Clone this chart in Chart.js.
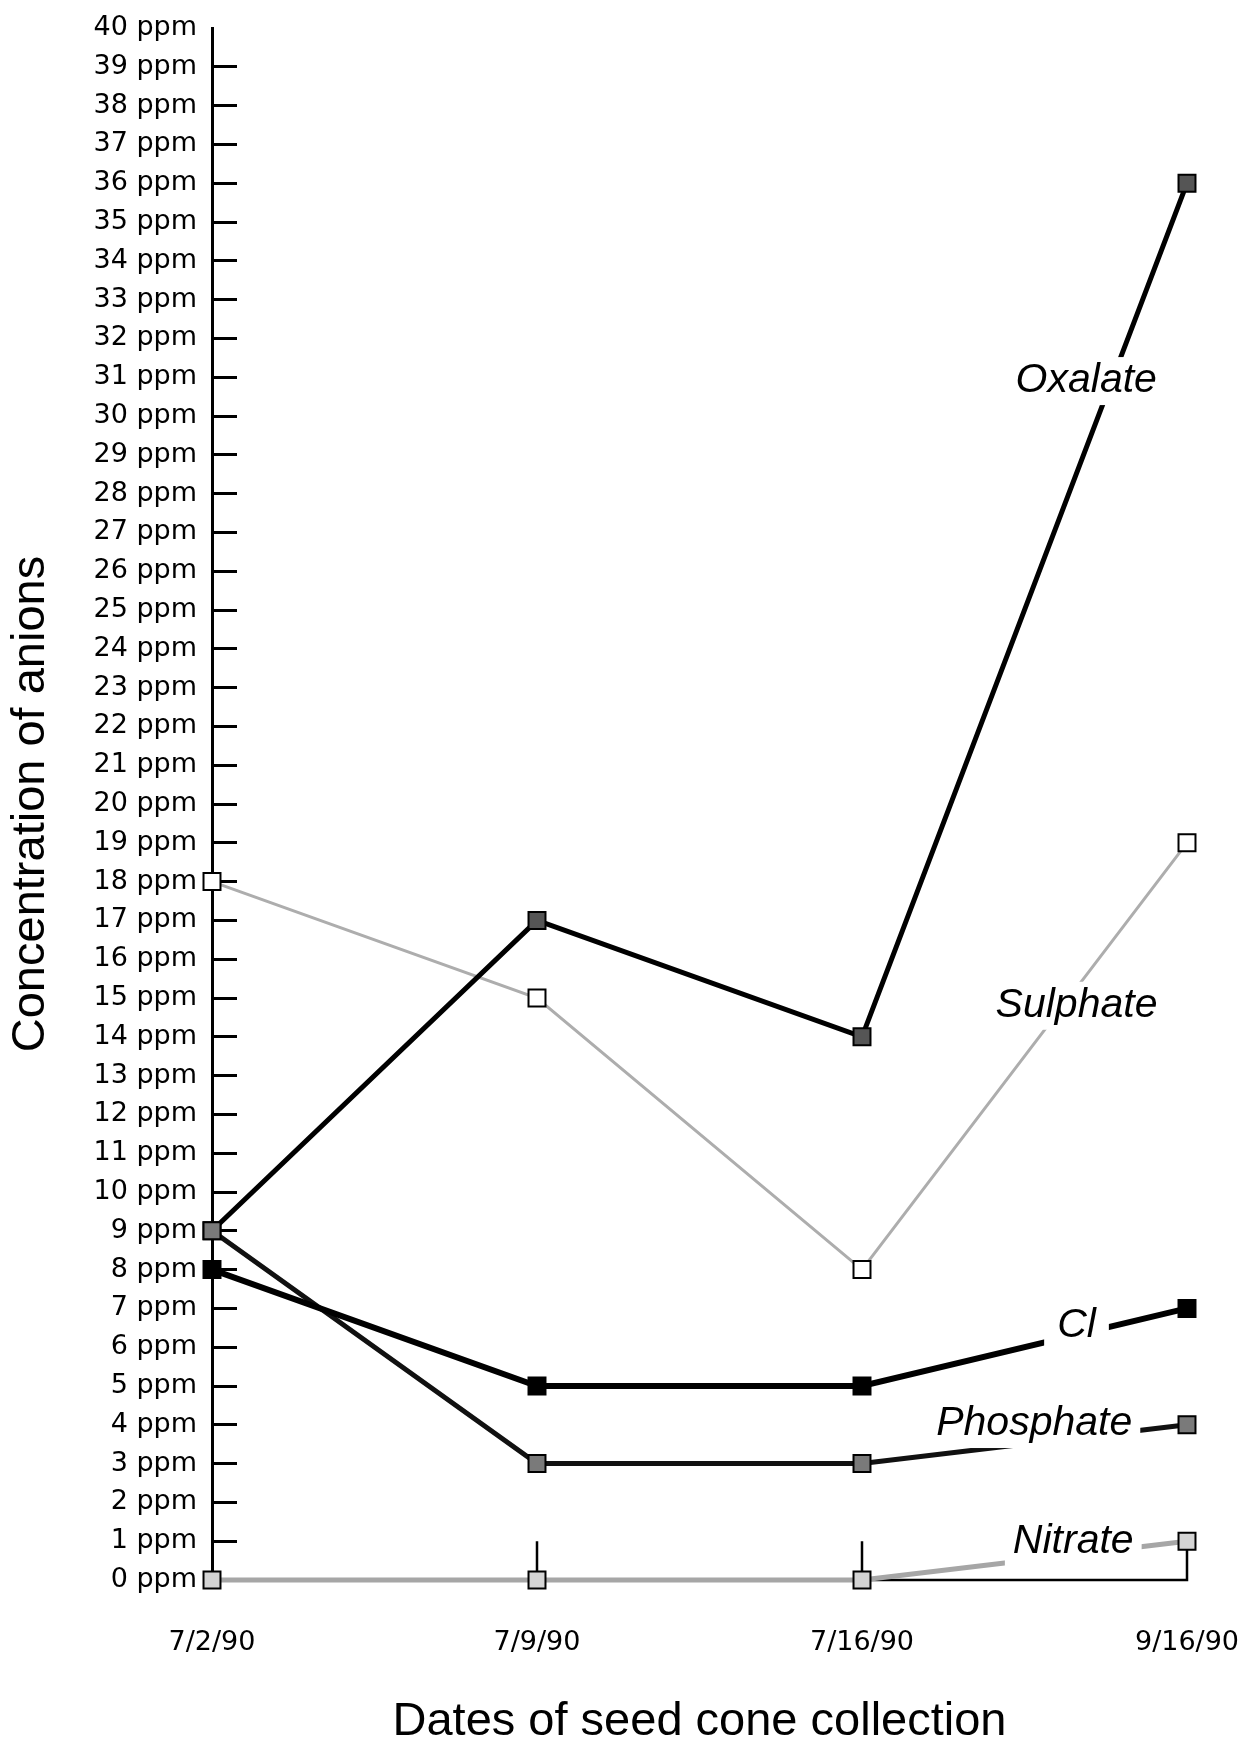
<!DOCTYPE html>
<html>
<head>
<meta charset="utf-8">
<title>Concentration of anions</title>
<script src="https://cdn.jsdelivr.net/npm/chart.js@4.4.1/dist/chart.umd.min.js"></script>
<style>
  html, body { margin: 0; padding: 0; background: #fff; }
  canvas { display: block; }
</style>
</head>
<body>
<canvas id="anionChart" width="1252" height="1746"></canvas>
<script>
// collection dates (x axis)
const dates = ['7/2/90', '7/9/90', '7/16/90', '9/16/90'];

// ppm values
const oxalate = [9, 17, 14, 36];
const sulphate = [18, 15, 8, 19];
const chloride = [8, 5, 5, 7];
const phosphate = [9, 3, 3, 4];
const nitrate = [0, 0, 0, 1];

// stray tick stems / baseline seen near the bottom of the original
const baselineMarks = [
    { x: '7/9/90', y: 0 }, { x: '7/9/90', y: 1 }, { x: '7/9/90', y: null },
    { x: '7/16/90', y: 1 }, { x: '7/16/90', y: 0 }, { x: '9/16/90', y: 0 }, { x: '9/16/90', y: 1 }
];

const seriesNames = ['Cl', 'Phosphate', 'Oxalate', 'Sulphate', 'Nitrate'];

const tickFont = { family: '"DejaVu Sans", sans-serif', size: 27 };
const titleFont = { family: '"Liberation Sans", Arial, sans-serif', size: 47, lineHeight: 1 };

// draws the in-line series names with a white gap behind them
const seriesLabelPlugin = {
    id: 'seriesLabels',
    afterDatasetsDraw(chart, args, opts) {
        const ctx = chart.ctx;
        const xs = chart.scales.x;
        const ys = chart.scales.y;
        ctx.save();
        ctx.font = 'italic 41px "Liberation Sans", Arial, sans-serif';
        ctx.textAlign = 'center';
        ctx.textBaseline = 'middle';
        opts.items.forEach(item => {
            const px = xs.getPixelForValue(item.at[0]);
            const py = ys.getPixelForValue(item.at[1]);
            const w = ctx.measureText(item.text).width;
            const padX = item.pad || 8;
            ctx.fillStyle = '#fff';
            ctx.fillRect(px - w / 2 - padX, py - 24, w + padX * 2, 48);
            ctx.fillStyle = '#000';
            ctx.fillText(item.text, px, py);
        });
        ctx.restore();
    }
};

function pointStyleFor(fill) {
    return {
        pointStyle: 'rect',
        pointRadius: 12,
        pointHoverRadius: 12,
        pointBorderWidth: 2,
        pointBorderColor: '#000',
        pointBackgroundColor: fill
    };
}

new Chart(document.getElementById('anionChart'), {
    type: 'line',
    data: {
        labels: dates,
        datasets: [
            {
                label: seriesNames[0],
                data: chloride,
                borderColor: '#000',
                borderWidth: 6,
                clip: false,
                ...pointStyleFor('#000')
            },
            {
                label: seriesNames[1],
                data: phosphate,
                borderColor: '#111',
                borderWidth: 5,
                clip: false,
                ...pointStyleFor('#7a7a7a')
            },
            {
                label: seriesNames[2],
                data: oxalate,
                borderColor: '#000',
                borderWidth: 5,
                clip: false,
                ...pointStyleFor('#555')
            },
            {
                label: seriesNames[3],
                data: sulphate,
                borderColor: '#adadad',
                borderWidth: 3,
                clip: false,
                ...pointStyleFor('#fff')
            },
            {
                label: seriesNames[4],
                data: nitrate,
                borderColor: '#a6a6a6',
                borderWidth: 5,
                clip: false,
                ...pointStyleFor('#d4d4d4')
            },
            {
                label: 'marks',
                data: baselineMarks,
                borderColor: '#000',
                borderWidth: 2.5,
                pointRadius: 0,
                spanGaps: false,
                clip: false
            }
        ]
    },
    options: {
        responsive: false,
        animation: false,
        events: [],
        elements: { line: { tension: 0 } },
        layout: {
            padding: { top: 28, right: 65, bottom: 0, left: 0 }
        },
        plugins: {
            legend: { display: false },
            tooltip: { enabled: false },
            seriesLabels: {
                items: [
                    { text: 'Oxalate', at: [2.69, 30.9] },
                    { text: 'Sulphate', at: [2.66, 14.8] },
                    { text: 'Cl', at: [2.66, 6.55], pad: 13 },
                    { text: 'Phosphate', at: [2.53, 4.02] },
                    { text: 'Nitrate', at: [2.65, 0.98] }
                ]
            }
        },
        scales: {
            x: {
                type: 'category',
                offset: false,
                grid: { display: false, drawTicks: false },
                border: { display: false },
                ticks: {
                    color: '#000',
                    font: tickFont,
                    padding: 47,
                    maxRotation: 0,
                    autoSkip: false
                },
                title: {
                    display: true,
                    text: 'Dates of seed cone collection',
                    color: '#000',
                    font: titleFont,
                    padding: { top: 0, bottom: 0 }
                },
                afterFit(scale) {
                    scale.height = 166;
                    scale.paddingLeft = 0;
                    scale.paddingRight = 0;
                }
            },
            y: {
                min: 0,
                max: 40,
                grid: {
                    drawOnChartArea: false,
                    drawTicks: true,
                    tickLength: -25,
                    tickWidth: 3,
                    tickColor: ctx => (ctx.tick && (ctx.tick.value === 40 || ctx.tick.value === 0)) ? 'rgba(0,0,0,0)' : '#000'
                },
                border: { display: true, color: '#000', width: 3 },
                ticks: {
                    stepSize: 1,
                    autoSkip: false,
                    color: '#000',
                    font: tickFont,
                    padding: 40,
                    callback: value => value + ' ppm'
                },
                title: {
                    display: true,
                    text: 'Concentration of anions',
                    color: '#000',
                    font: titleFont,
                    padding: { top: 8, bottom: 0 }
                },
                afterFit(scale) {
                    scale.width = 212;
                    scale.paddingTop = 0;
                    scale.paddingBottom = 0;
                }
            }
        }
    },
    plugins: [seriesLabelPlugin]
});
</script>
</body>
</html>
